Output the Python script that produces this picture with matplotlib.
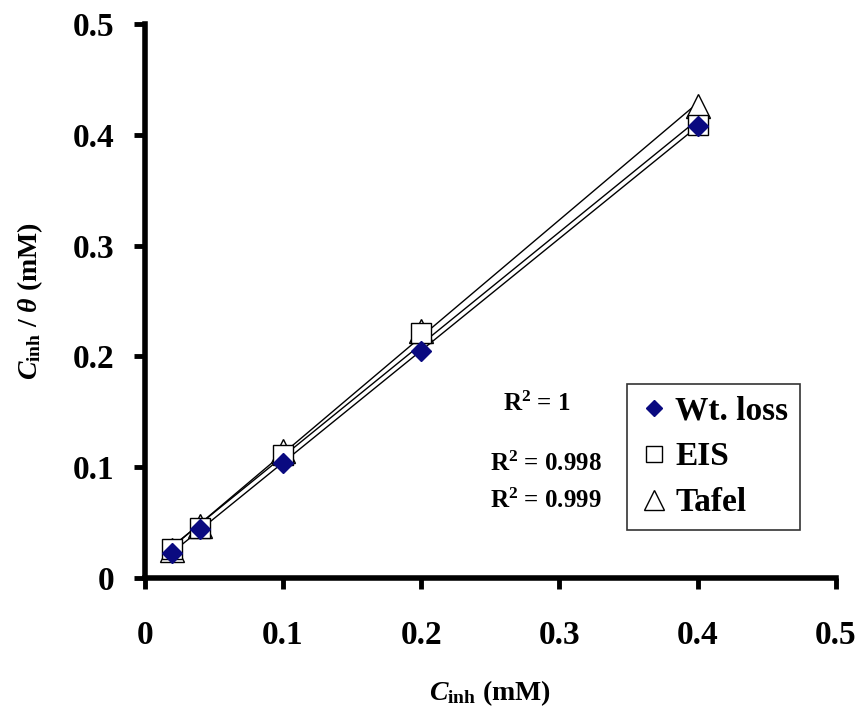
import numpy as np
import matplotlib.pyplot as plt

plt.rcParams['font.family'] = ['Liberation Serif', 'DejaVu Serif']
plt.rcParams['mathtext.fontset'] = 'custom'
plt.rcParams['mathtext.rm'] = 'Liberation Serif:bold'
plt.rcParams['mathtext.it'] = 'Liberation Serif:italic:bold'
plt.rcParams['mathtext.bf'] = 'Liberation Serif:bold'

# concentration (mM)
c_inh = [0.02, 0.04, 0.1, 0.2, 0.4]

# C_inh / theta (mM)
wt_loss = [0.023, 0.044, 0.104, 0.205, 0.408]
eis = [0.026, 0.045, 0.111, 0.221, 0.409]
tafel = [0.025, 0.047, 0.115, 0.223, 0.426]

r2_labels = ['R$^2$ = 1', 'R$^2$ = 0.998', 'R$^2$ = 0.999']

fig, ax = plt.subplots(figsize=(8.61, 7.11), dpi=100)
fig.subplots_adjust(left=0.168, right=0.971, top=0.966, bottom=0.187)

x = np.array(c_inh)
for ys in (wt_loss, eis, tafel):
    k, b = np.polyfit(x, ys, 1)
    xx = np.array([x.min(), x.max()])
    ax.plot(xx, k * xx + b, color='black', lw=1.0, zorder=1)

ax.plot(c_inh, tafel, '^', ms=17, mfc='white', mec='black', mew=1.0,
        label='Tafel', zorder=2)
ax.plot(c_inh, eis, 's', ms=14, mfc='white', mec='black', mew=1.0,
        label='EIS', zorder=3)
ax.plot(c_inh, wt_loss, 'D', ms=10, color='#0a0a80', label='Wt. loss', zorder=4)

ax.set_xlim(0, 0.5)
ax.set_ylim(0, 0.5)
ax.set_xticks([0, 0.1, 0.2, 0.3, 0.4, 0.5])
ax.set_yticks([0, 0.1, 0.2, 0.3, 0.4, 0.5])
ax.set_xticklabels(['0', '0.1', '0.2', '0.3', '0.4', '0.5'])
ax.set_yticklabels(['0', '0.1', '0.2', '0.3', '0.4', '0.5'])

for s in ('top', 'right'):
    ax.spines[s].set_visible(False)
for s in ('left', 'bottom'):
    ax.spines[s].set_linewidth(4)
ax.tick_params(direction='out', length=8, width=3.5, labelsize=24)
ax.tick_params(axis='x', pad=22)
ax.tick_params(axis='y', pad=14)
for lab in ax.get_xticklabels() + ax.get_yticklabels():
    lab.set_fontweight('bold')

ax.set_xlabel(r'$\mathit{C}_{\mathbf{inh}}$ (mM)', fontsize=20,
              fontweight='bold', labelpad=20)
ax.set_ylabel(r'$\mathit{C}_{\mathbf{inh}}$ / $\mathit{\theta}$ (mM)', fontsize=20,
              fontweight='bold', labelpad=20)

handles, labels = ax.get_legend_handles_labels()
order = [2, 1, 0]
leg = ax.legend([handles[i] for i in order], [labels[i] for i in order],
                loc='lower right', bbox_to_anchor=(0.948, 0.087),
                frameon=True, fancybox=False, edgecolor='black',
                prop={'family': 'Liberation Serif', 'weight': 'bold', 'size': 24},
                handletextpad=0.2, handlelength=0.9, borderpad=0.35,
                labelspacing=0.45, markerscale=0.85, borderaxespad=0)
leg.get_frame().set_linewidth(1.2)

ax.text(0.259, 0.151, r2_labels[0], fontsize=18, fontweight='bold')
ax.text(0.250, 0.097, r2_labels[1], fontsize=18, fontweight='bold')
ax.text(0.250, 0.063, r2_labels[2], fontsize=18, fontweight='bold')

fig.savefig('out.png', dpi=100)
